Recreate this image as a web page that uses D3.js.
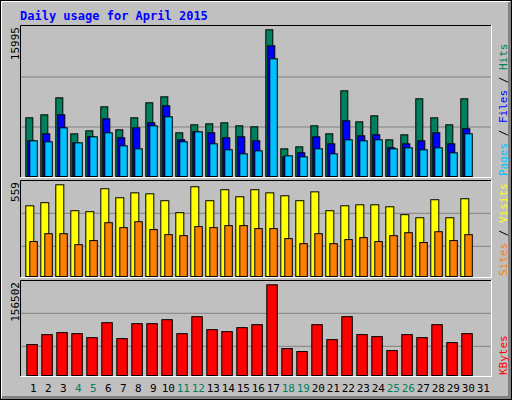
<!DOCTYPE html>
<html><head><meta charset="utf-8">
<script src="https://cdn.jsdelivr.net/npm/d3@7"></script>
<style>body{margin:0;background:#fff}svg{display:block}text{font-family:"DejaVu Sans Mono",monospace}</style>
</head><body><div id="chart-area"></div>
<script>
const days = d3.range(1, 32);
const weekend = [4, 5, 11, 12, 18, 19, 25, 26];
const hits = [6398,6725,8579,4653,4980,7598,5089,6398,8034,8688,4762,5634,5743,5853,5525,5416,15995,3017,3235,5525,4653,9342,5961,6616,3999,4544,8470,6398,5634,8470];
const files = [3889,4653,6725,3671,4326,6289,4217,5307,5853,7706,3999,4871,4762,4217,4326,3889,14249,2145,2581,4326,3562,6070,4435,4544,3126,3562,3889,4762,3562,5198];
const pages = [3889,3780,5307,3671,4326,4762,3344,3017,5525,6507,3780,4871,3562,2908,2472,2799,12832,2254,2145,3017,2472,3999,3889,3999,3017,3126,2908,3126,2581,4653];
const visits = [431,450,559,401,395,535,480,510,504,462,389,547,462,529,486,529,510,492,462,516,401,431,437,437,425,377,358,468,358,474];
const sites = [213,261,261,194,219,328,298,334,286,255,249,304,298,310,310,292,292,231,200,261,200,225,237,213,249,267,207,273,219,255];
const kbytes = [53317,70516,73956,72236,65356,91155,63636,89435,89435,96314,72236,101474,79115,75676,82555,87715,156502,46437,41278,87715,61916,101474,70516,67076,42998,70516,65356,87715,56757,72236];

const W = 512, H = 400;
const svg = d3.select('#chart-area').append('svg').attr('width', W).attr('height', H);

// background and frame
svg.append('rect').attr('width', W).attr('height', H).attr('fill', '#c0c0c0');
svg.append('rect').attr('x', 0.5).attr('y', 0.5).attr('width', W - 1).attr('height', H - 1)
    .attr('fill', 'none').attr('stroke', '#000');
svg.append('path').attr('d', `M1.5,${H - 2}V1.5H${W - 2}`).attr('fill', 'none').attr('stroke', '#fff');
svg.append('path').attr('d', `M2,${H - 2.5}H${W - 2.5}V2`).attr('fill', 'none').attr('stroke', '#808080').attr('stroke-width', 3);

svg.append('text').attr('x', 20).attr('y', 20).attr('fill', '#0000ff')
    .attr('font-size', 12).attr('font-weight', 'bold').text('Daily usage for April 2015');

let x = d3.scaleLinear().domain([1, 32]).range([25.3, 25.3 + 31 * 15]);

const panels = [
    {top: 25, bottom: 177, max: 15995, grid: [127, 77], y: d3.scaleLinear().domain([0, 15995]).range([176, 29.3]),
     series: [{data: hits, col: '#00805c', dx: 0, w: 7}, {data: files, col: '#0000ff', dx: 2, w: 7}, {data: pages, col: '#00c0ff', dx: 4, w: 7.5}],
     labels: [['Pages', '#00c0ff'], [' / ', '#000'], ['Files', '#0000ff'], [' / ', '#000'], ['Hits', '#00805c']]},
    {top: 180, bottom: 277, max: 559, grid: [246.3, 213.3], y: d3.scaleLinear().domain([0, 559]).range([276, 184.3]),
     series: [{data: visits, col: '#ffff00', dx: 0, w: 8}, {data: sites, col: '#ff8000', dx: 4, w: 7.5}],
     labels: [['Sites', '#ff8000'], [' / ', '#000'], ['Visits', '#ffff00']]},
    {top: 280, bottom: 376, max: 156502, grid: [346.3, 313.3], y: d3.scaleLinear().domain([0, 156502]).range([375, 284.3]),
     series: [{data: kbytes, col: '#ff0000', dx: 1, w: 10.5}],
     labels: [['KBytes', '#ff0000']]}
];

panels.forEach(p => {
    // sunken panel
    svg.append('path').attr('d', `M20.5,${p.bottom}V${p.top + 0.5}H491`).attr('fill', 'none').attr('stroke', '#000');
    svg.append('path').attr('d', `M20.5,${p.bottom + 0.5}H491.5V${p.top}`).attr('fill', 'none').attr('stroke', '#fff');
    p.grid.forEach(g => svg.append('line').attr('x1', 21).attr('x2', 491).attr('y1', g).attr('y2', g)
        .attr('stroke', '#808080'));

    p.series.forEach(s => {
        svg.append('g').selectAll('rect')
            .data(s.data)
            .enter()
            .append('rect')
                .attr('x', (d, i) => x(i + 1) + s.dx + 0.5)
                .attr('y', d => p.y(d) + 0.5)
                .attr('width', s.w)
                .attr('height', d => p.y(0) - p.y(d))
                .attr('fill', s.col)
                .attr('stroke', '#000');
    });

    svg.append('text').attr('transform', `translate(19,${p.top + 2}) rotate(-90)`)
        .attr('text-anchor', 'end').attr('font-size', 11).text(p.max);

    const t = svg.append('text').attr('transform', `translate(503,${p.bottom - 1}) rotate(-90)`)
        .attr('font-size', 11).attr('dy', '0.35em');
    p.labels.forEach(l => t.append('tspan').attr('fill', l[1]).text(l[0]));
});

svg.append('g').selectAll('text')
    .data(days)
    .enter()
    .append('text')
        .attr('x', d => x(d) + 8)
        .attr('y', 392)
        .attr('text-anchor', 'middle')
        .attr('font-size', 11)
        .attr('fill', d => weekend.includes(d) ? '#00805c' : '#000')
        .text(d => d);
</script>
</body></html>
